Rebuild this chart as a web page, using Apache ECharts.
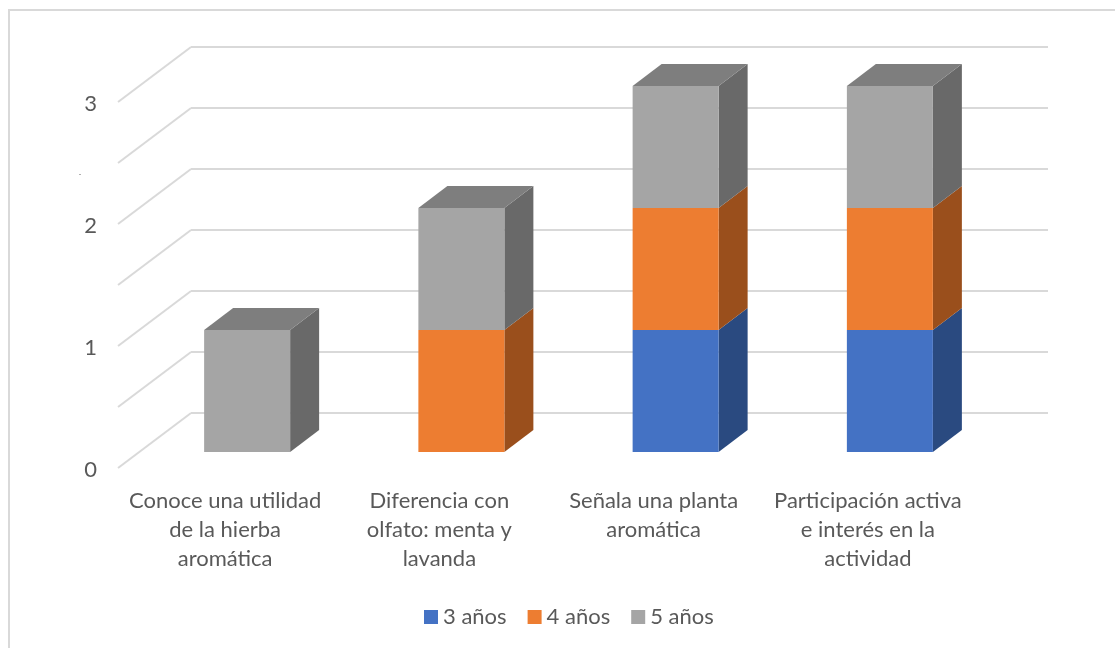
<!DOCTYPE html>
<html><head><meta charset="utf-8">
<script src="https://cdn.jsdelivr.net/npm/echarts@6/dist/echarts.min.js"></script>
<style>html,body{margin:0;padding:0;background:#fff}#c{width:1115px;height:648px}</style>
</head><body><div id="c"></div>
<script>
const categories = ['Conoce una utilidad\nde la hierba\naromática','Diferencia con\nolfato: menta y\nlavanda','Señala una planta\naromática','Participación activa\ne interés en la\nactividad'];
const valueTicks = [0,0.5,1,1.5,2,2.5,3];
const s3 = [0,0,1,1];
const s4 = [0,1,1,1];
const s5 = [1,1,1,1];
const seriesNames = ['3 años','4 años','5 años'];
const font = 'Lato, "Open Sans", sans-serif';

const OFF_X = 51, OFF_Y = 39, DX = 29, DY = 22, HALF = 43;
const shades = {
  '3 años':{front:'#4472c4',side:'#2a4a80',top:'#2f4f86'},
  '4 años':{front:'#ed7d31',side:'#9a4f1c',top:'#9a4f1c'},
  '5 años':{front:'#a5a5a5',side:'#696969',top:'#7e7e7e'}
};
function barItem(name){
  return function(params, api){
    const c = shades[name];
    const i = api.value(0), lo = api.value(1), hi = api.value(2);
    if (hi <= lo) return {type:'group',children:[]};
    const a = api.coord([i,lo]), b = api.coord([i,hi]);
    const xl = a[0]-OFF_X-HALF, xr = a[0]-OFF_X+HALF, yb = a[1]+OFF_Y, yt = b[1]+OFF_Y;
    const kids = [
      {type:'polygon',shape:{points:[[xr,yb],[xr+DX,yb-DY],[xr+DX,yt-DY],[xr,yt]]},style:{fill:c.side}},
      {type:'rect',shape:{x:xl,y:yt,width:xr-xl,height:yb-yt},style:{fill:c.front}}
    ];
    if (api.value(3)) kids.push({type:'polygon',shape:{points:[[xl,yt],[xl+DX,yt-DY],[xr+DX,yt-DY],[xr,yt]]},style:{fill:c.top}});
    return {type:'group',children:kids};
  };
}
function stackData(idx){
  const arrs=[s3,s4,s5];
  return categories.map((_,i)=>{
    let lo=0; for(let k=0;k<idx;k++) lo+=arrs[k][i];
    const hi=lo+arrs[idx][i];
    let topmost=true; for(let k=idx+1;k<3;k++) if(arrs[k][i]>0) topmost=false;
    return [i,lo,hi,topmost?1:0];
  });
}
const wall = {
  type:'custom', xAxisIndex:0, yAxisIndex:0, silent:true, z:1,
  data: valueTicks.map(v=>[v]),
  renderItem:function(params, api){
    const p = api.coord([0,api.value(0)]);
    const x = p[0]-107.1;
    return {type:'line',shape:{x1:x,y1:p[1],x2:x-73,y2:p[1]+55},style:{stroke:'#d9d9d9',lineWidth:2}};
  }
};
const chart = echarts.init(document.getElementById('c'),null,{renderer:'canvas'});
chart.setOption({
  animation:false,
  backgroundColor:'#fff',
  graphic:[
    {type:'polyline',shape:{points:[[9,648],[9,10],[1115,10]]},style:{stroke:'#d9d9d9',fill:null,lineWidth:2},silent:true},
    {type:'rect',shape:{x:79,y:174,width:2,height:1},style:{fill:'#b0b0b0'},silent:true}
  ],
  legend:{left:419,top:601,itemWidth:14,itemHeight:14,itemGap:21,icon:'rect',
    data:seriesNames,textStyle:{color:'#595959',fontSize:22,fontFamily:font}},
  grid:[
    {left:191,right:67,top:47,bottom:235},
    {left:118,right:140,top:104,bottom:178}
  ],
  xAxis:[
    {type:'category',gridIndex:0,data:categories,axisLine:{show:false},axisTick:{show:false},axisLabel:{show:false},splitLine:{show:false}},
    {type:'category',gridIndex:1,data:categories,axisLine:{show:false},axisTick:{show:false},splitLine:{show:false},
      axisLabel:{interval:0,margin:16,color:'#595959',fontSize:22,lineHeight:29,fontFamily:font,align:'center'}}
  ],
  yAxis:[
    {type:'value',gridIndex:0,min:0,max:3,interval:0.5,axisLine:{show:false},axisTick:{show:false},axisLabel:{show:false},
      splitLine:{show:true,lineStyle:{color:'#d9d9d9',width:2}}},
    {type:'value',gridIndex:1,min:0,max:3,interval:1,axisLine:{show:false},axisTick:{show:false},splitLine:{show:false},
      axisLabel:{margin:21,color:'#595959',fontSize:22,fontFamily:font}}
  ],
  series:[
    wall,
    ...seriesNames.map((n,idx)=>({
      type:'custom',name:n,xAxisIndex:0,yAxisIndex:0,z:2+idx,silent:true,
      itemStyle:{color:shades[n].front},
      data:stackData(idx),encode:{x:0,y:[1,2]},renderItem:barItem(n)
    }))
  ]
});
</script></body></html>
